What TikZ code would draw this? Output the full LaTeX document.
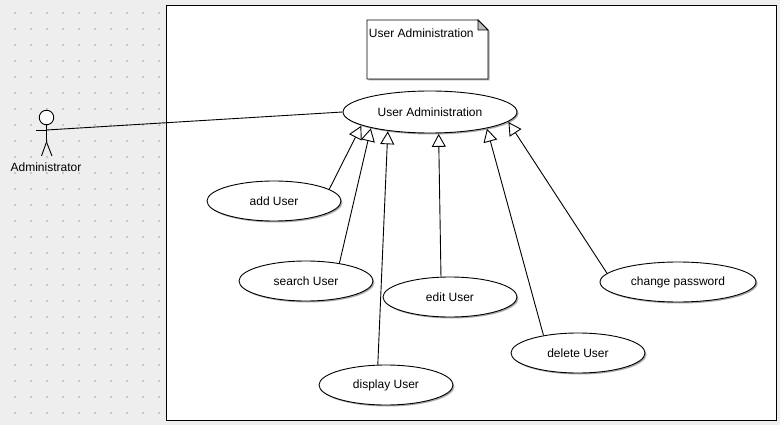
\documentclass[tikz,border=0pt]{standalone}
\usepackage{fontspec}
\setmainfont{Liberation Sans}
\usetikzlibrary{arrows.meta,shapes.geometric,shadows}
\definecolor{UMLBack}{HTML}{EEEEEE}
\definecolor{UMLDot}{HTML}{C8C8C8}
\definecolor{UMLFold}{HTML}{BDBDBD}
\definecolor{UMLShade}{HTML}{A0A0A0}

\begin{document}
\begin{tikzpicture}[x=1pt,y=-1pt,line width=0.9pt,font=\fontsize{12}{14}\selectfont]
  \tikzstyle{softshadow}=[drop shadow={shadow xshift=1.5pt,shadow yshift=-1.5pt,fill=UMLShade,opacity=0.9}]
  \tikzstyle{usecase}=[draw,fill=white,ellipse,inner sep=0pt,softshadow,
    minimum width=134pt,minimum height=40pt]
  \tikzstyle{general}=[-{Triangle[length=13pt,width=14pt,fill=white]},shorten >=0.5pt]
  % background and dots
  \fill[UMLBack] (0,0) rectangle (780,425);
  \foreach \dotx in {15,31,...,159}
    \foreach \doty in {13,29,...,413}
      \fill[UMLDot] (\dotx-0.7,\doty-0.7) rectangle (\dotx+0.7,\doty+0.7);
  \node[draw,fill=white,inner sep=0pt,minimum width=610pt,minimum height=415pt] (frame) at (471.5,212.5) {};
  % note
  \filldraw[fill=white,softshadow] (367,20)--(478,20)--(488,30)--(488,79)--(367,79)--cycle;
  \filldraw[fill=UMLFold] (478,20)--(488,30)--(478,30)--cycle;
  \node[anchor=west,inner sep=0pt] (note) at (368.5,33) {User Administration};
  % use cases
  \node[usecase,minimum width=174pt,minimum height=42pt] (admin) at (430,112) {User Administration};
  \node[usecase] (add) at (274,201) {add User};
  \node[usecase] (search) at (306,281) {search User};
  \node[usecase] (edit) at (450,297) {edit User};
  \node[usecase] (display) at (386,385) {display User};
  \node[usecase] (delete) at (578,353) {delete User};
  \node[usecase,minimum width=156pt] (change) at (678,282) {change password};
  % actor
  \node[draw,fill=white,circle,inner sep=0pt,minimum size=14.5pt] (head) at (46.5,117.5) {};
  \coordinate (shoulder) at (46.5,130);
  \coordinate (hip) at (46.5,142);
  \coordinate (lfoot) at (41.5,156);
  \coordinate (rfoot) at (52,156);
  \coordinate (larm) at (36,130);
  \draw (head)--(hip);
  \draw (hip)--(lfoot);
  \draw (hip)--(rfoot);
  \draw (larm)--(shoulder);
  \node (actor) at (46,167) {Administrator};
  \draw (shoulder)--(admin.west);
  % generalizations
  \draw[general] (add.12)--(admin.191);
  \draw[general] (search.28)--(admin.195.4);
  \draw[general] (display.112)--(admin.204);
  \draw[general] (edit.114)--(admin.292);
  \draw[general] (delete.153)--(admin.344);
  \draw[general] (change.173)--(admin.353);
\end{tikzpicture}
\end{document}
